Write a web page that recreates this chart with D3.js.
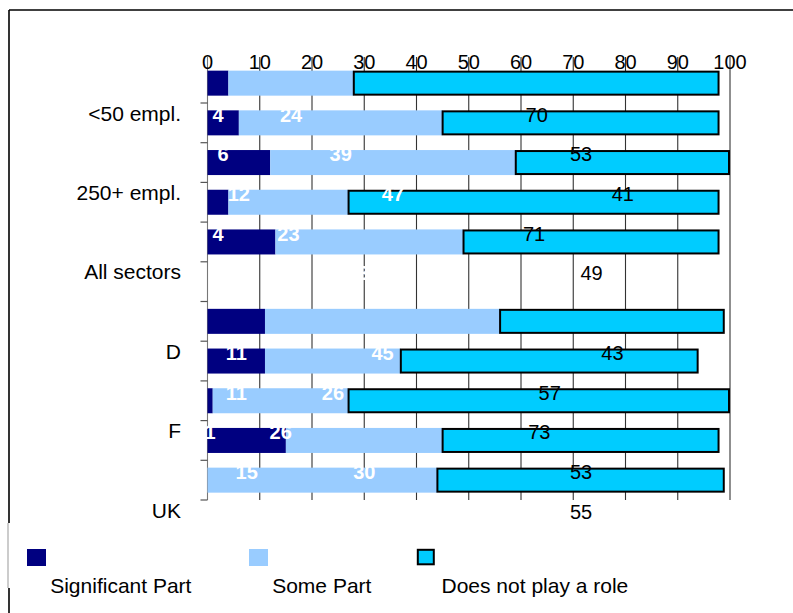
<!DOCTYPE html>
<html>
<head>
<meta charset="utf-8">
<script src="https://cdn.jsdelivr.net/npm/d3@7"></script>
<style>
  body { margin: 0; background: #fff; }
  text { font-family: "Liberation Sans", Arial, sans-serif; }
</style>
</head>
<body>
<div id="chart-container"></div>
<script>
// stacked bars, one row per category (row 5 is the blank gap between groups)
const tickValues = [0, 10, 20, 30, 40, 50, 60, 70, 80, 90, 100];
const axisLabels = ["<50 empl.", "250+ empl.", "All sectors", "D", "F", "UK"];
const significant = [4, 6, 12, 4, 13, null, 11, 11, 1, 15, 0];
const somePart = [24, 39, 47, 23, 36, null, 45, 26, 26, 30, 44];
const noRole = [70, 53, 41, 71, 49, null, 43, 57, 73, 53, 55];
const seriesNames = ["Significant Part", "Some Part", "Does not play a role"];
const seriesColors = ["#000080", "#99CCFF", "#00CCFF"];

const svgWidth = 793;
const svgHeight = 613;

const svg = d3.select("#chart-container")
    .append("svg")
    .attr("width", svgWidth)
    .attr("height", svgHeight);

// frame (only top + left are visible in the original)
svg.append("line").attr("x1", 9).attr("x2", svgWidth).attr("y1", 10).attr("y2", 10)
    .attr("stroke", "#000").attr("stroke-width", 1.6);
svg.append("line").attr("x1", 9).attr("x2", 9).attr("y1", 10).attr("y2", 523)
    .attr("stroke", "#000").attr("stroke-width", 1.6);
svg.append("line").attr("x1", 8).attr("x2", 8).attr("y1", 523).attr("y2", 588)
    .attr("stroke", "#999").attr("stroke-width", 1);
svg.append("line").attr("x1", 9).attr("x2", 9).attr("y1", 588).attr("y2", svgHeight)
    .attr("stroke", "#000").attr("stroke-width", 1.6);

const rows = significant.map((d, i) => ({
    i: i,
    vals: d == null ? null : [significant[i], somePart[i], noRole[i]]
}));

const x = d3.scaleLinear().domain([0, 100]).range([207.5, 730]);
const y = d3.scaleBand()
    .domain(d3.range(rows.length))
    .range([63.3, 500])
    .paddingInner(0.37)
    .paddingOuter(0.185);

// gridlines + top tick marks running up through the labels
svg.selectAll(".grid")
    .data(tickValues)
    .enter()
    .append("line")
    .attr("x1", d => x(d)).attr("x2", d => x(d))
    .attr("y1", 57).attr("y2", 500)
    .attr("stroke", d => d == 0 ? "#777" : "#333")
    .attr("stroke-width", 1.1);

svg.selectAll(".ticklabel")
    .data(tickValues)
    .enter()
    .append("text")
    .attr("x", d => x(d))
    .attr("y", 69)
    .attr("text-anchor", "middle")
    .attr("font-size", 20)
    .text(d => d);

// left axis ticks on band boundaries
const bounds = d3.range(1, rows.length + 1).map(k => y.range()[0] + k * y.step());
svg.selectAll(".ytick")
    .data(bounds)
    .enter()
    .append("line")
    .attr("x1", x(0) - 7).attr("x2", x(0))
    .attr("y1", d => d).attr("y2", d => d)
    .attr("stroke", "#555").attr("stroke-width", 1.2);

// category labels sit on every second boundary
svg.selectAll(".cat")
    .data(axisLabels)
    .enter()
    .append("text")
    .attr("x", 181)
    .attr("y", (d, k) => bounds[2 * k] + 17.5)
    .attr("text-anchor", "end")
    .attr("font-size", 21)
    .text(d => d);

// segments
const segs = [];
rows.forEach(r => {
    if (!r.vals) return;
    let start = 0;
    r.vals.forEach((v, s) => {
        segs.push({ row: r.i, s: s, x0: start, x1: start + v, v: v });
        start += v;
    });
});

svg.selectAll(".seg")
    .data(segs.filter(d => d.v > 0))
    .enter()
    .append("rect")
    .attr("x", d => x(d.x0))
    .attr("y", d => y(d.row) + (d.s == 2 ? 1 : 0))
    .attr("width", d => x(d.x1) - x(d.x0) - (d.s == 2 ? 1 : 0))
    .attr("height", d => y.bandwidth() - (d.s == 2 ? 2 : 0))
    .attr("fill", d => seriesColors[d.s])
    .attr("stroke", d => d.s == 2 ? "#000" : "none")
    .attr("stroke-width", 2);

// value labels - in the original they land one row lower than their bar
svg.selectAll(".val")
    .data(segs.filter(d => d.v > 0))
    .enter()
    .append("text")
    .attr("x", d => (x(d.x0) + x(d.x1)) / 2)
    .attr("y", d => y(d.row) + 51)
    .attr("text-anchor", "middle")
    .attr("font-size", 20)
    .attr("font-weight", d => d.s == 2 ? "normal" : "bold")
    .attr("fill", d => d.s == 2 ? "#000" : "#fff")
    .text(d => d.v);

// legend
const legendX = [27, 249, 417];
const legend = svg.selectAll(".legend")
    .data(seriesNames)
    .enter()
    .append("g")
    .attr("transform", (d, i) => `translate(${legendX[i]}, 549)`);

legend.append("rect")
    .attr("x", (d, i) => i == 2 ? 0.8 : 0)
    .attr("y", (d, i) => i == 2 ? 0.8 : 0)
    .attr("width", (d, i) => i == 2 ? 16 : 19)
    .attr("height", (d, i) => i == 2 ? 14.5 : 17)
    .attr("fill", (d, i) => seriesColors[i])
    .attr("stroke", (d, i) => i == 2 ? "#000" : "none")
    .attr("stroke-width", 2);

legend.append("text")
    .attr("x", (d, i) => i == 2 ? 24.5 : 23.2)
    .attr("y", 44)
    .attr("font-size", 21)
    .text(d => d);
</script>
</body>
</html>
